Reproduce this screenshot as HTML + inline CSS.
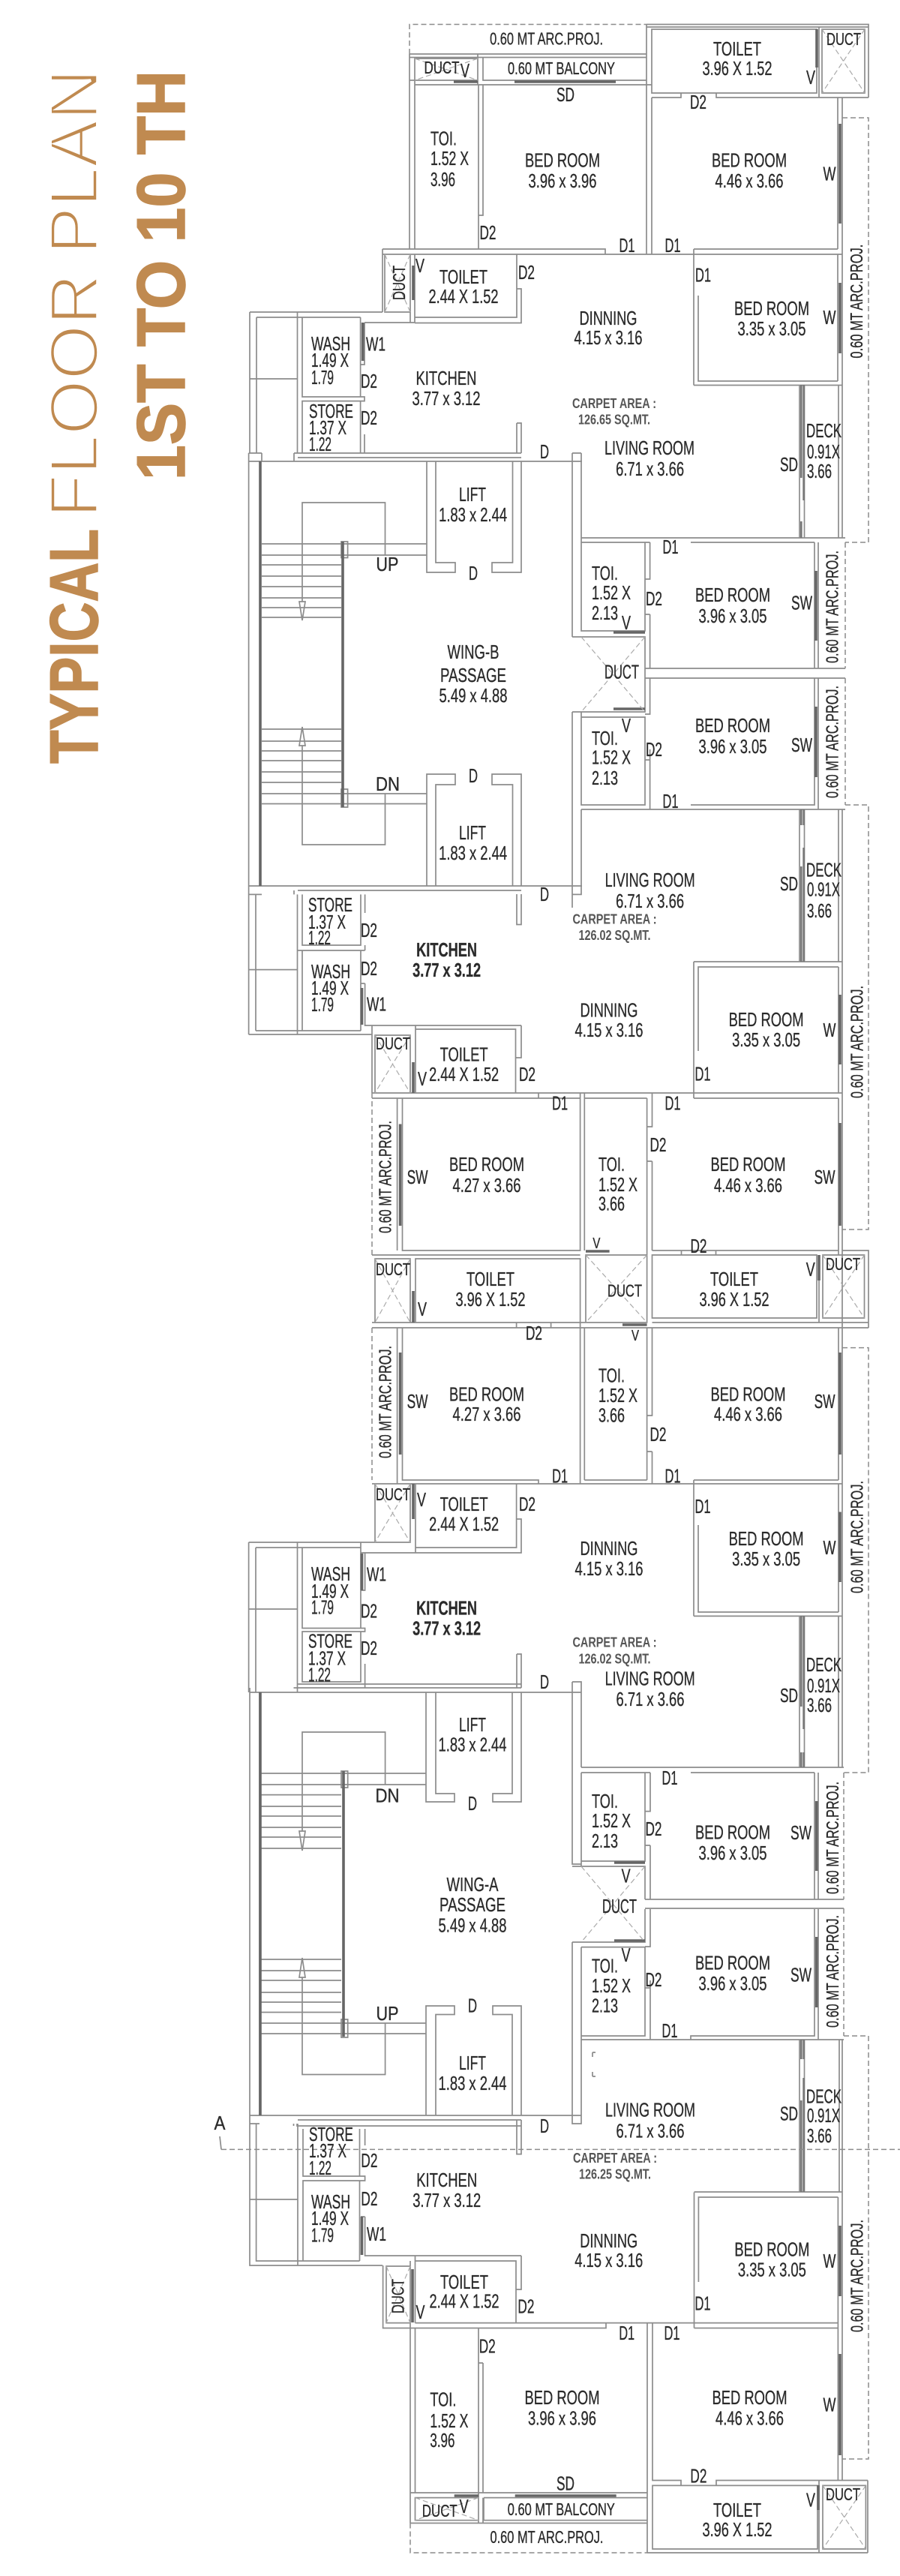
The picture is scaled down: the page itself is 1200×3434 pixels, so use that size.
<!DOCTYPE html>
<html><head><meta charset="utf-8"><title>Typical Floor Plan</title>
<style>
html,body{margin:0;padding:0;background:#fff}
svg{display:block}
text{font-family:"Liberation Sans",sans-serif;fill:#2b2b2b;stroke:#2b2b2b;stroke-width:.35;font-size:26px;text-anchor:middle;dominant-baseline:central}
.s{text-anchor:start}
.a{font-size:23px}
.c{font-size:18px;fill:#555;stroke:none;font-weight:bold}
.m{font-size:20px}
.w{fill:none;stroke:#8c8c8c;stroke-width:1.7}
.k{fill:none;stroke:#666;stroke-width:3.6}
.k2{fill:none;stroke:#777;stroke-width:2.6}
.d{fill:none;stroke:#8c8c8c;stroke-width:1.5;stroke-dasharray:7 4}
.x{fill:none;stroke:#aaa;stroke-width:1.2;stroke-dasharray:7 4}
.t1{font-size:91px;fill:#c08a50;text-anchor:start;dominant-baseline:alphabetic;stroke:#fff;stroke-width:3.5;paint-order:fill stroke}
.t2{font-size:91px;fill:#c08a50;text-anchor:start;dominant-baseline:alphabetic;font-weight:bold;stroke:#c08a50;stroke-width:1.5}
</style></head><body>
<svg xmlns="http://www.w3.org/2000/svg" width="1200" height="3434" viewBox="0 0 1200 3434">
<rect width="1200" height="3434" fill="#fff"/>
<!-- title -->
<text class="t1" x="130" y="690" textLength="598" lengthAdjust="spacingAndGlyphs" transform="rotate(-90 130 690)">FLOOR PLAN</text>
<text class="t2" x="130" y="1018" textLength="313" lengthAdjust="spacingAndGlyphs" transform="rotate(-90 130 1018)">TYPICAL</text>
<text class="t2" x="246" y="640" textLength="546" lengthAdjust="spacingAndGlyphs" transform="rotate(-90 246 640)">1ST TO 10 TH</text>

<!-- walls -->
<path class="w" d="
M862 32.5H1158V130M862 36H1158M862 32.5V339M869 39H1089V124H869ZM1096 39H1153V124H1096ZM1092 36V130
M869 130H908V124M955 124V130H1158M869 130V339M1117 130V332M1117 339V508M1123 130V717
M546 72H862M546 76.5H862M546 72V332M553 76.5V332M553 78H637V107H553ZM644 76.5V107H862M637 72V113M553 113H869M546 107H553M638 113V332M644 113V287H638
M510 339H1123M510 332H807V339M925 332H1117M925 332V513.5M931 394V508H1117M925 513.5H1123
M510 332V416M513 339H547V416H513ZM553 339V430.5M553 423H689V339M689 385H695V430.5H553M547 416V430
M333 416H510M342 423H480.6M333 416V604M342 423V604M396.5 416V604M403 423V529H486V534.6H403V604M480.6 423V529M480.6 534.6V604M486 430V486H481M486 579V604M333 505H396.5M486 430H553
M689 564H695V604M689 564V604
M331.6 604V1192.4M349 604V615M331.6 604H349M331.6 615H776M331.6 1181H776M331.6 1192.4H349M392 604H695M392 604V615M397 610H695
M569 615V763H607V750H581V615M695 615V763H656V750H683.5V615
M569 1181V1032H607V1046H581V1181M695 1181V1032H656V1046H683.5V1181
M349 725H569M349 740H569M349 753H455M349 768H455M349 782H455M349 797H455M349 810H455M349 823H455
M349 972H455M349 988H455M349 1001H455M349 1014H455M349 1029H455M349 1043H455M349 1058H569M349 1071.5H569
M403 802V670H513.5V740M403 994V1126H513.5V1058M455 722H463.6V743.5H455ZM455 1052H463.6V1076H455Z
M399 802H407L403 827ZM399 994H407L403 969Z
M763 604H775M763 604V849M763 949V1192.4H775V1079M775 604V723M775 717H1127M775 723H866.6M921 723H1086M866.6 723V772H860M775 723V841H860V723M775 849H860V891M763 849H775M763 949H860V891M775 949V956H860V1073H775V956
M866.6 819H860M866.6 819V891M860 891H1127M860 904H1127M866.6 904V952H860M866.6 999V1079M860 1013H866.6M1086 723V891M1086 904V1073H921M1091 723V891M1091 904V1079M775 1079H1127
M1066 513.5V717M1072.5 513.5V717M1118 513.5V717M1066 1079V1282M1072.5 1079V1282M1118 1079V1282M1123 1079V2154
M925 1282V1457M931 1401V1289H1118M925 1282H1123M1118 1289V1457M925 1464V1457M925 1464H1118
M397 1187H695M392 1192.4V1187M331.6 1192.4V1379M341 1192.4V1374M396.5 1192.4V1379M403 1192.4V1260H481V1192.4M486.6 1192.4V1217M396.5 1267H486.6M486.6 1260V1267M403 1267V1374M481 1267V1374M331.6 1292.6H396.5M331.6 1379H496M341 1374H481M486.6 1311V1367H695M481 1311H486.6
M689 1192V1232.5H695V1192M763 1192V1210
M496 1367V1380M500 1380H547V1457H500ZM554 1367V1457M554 1372H687.5V1457M695 1367V1410H687.5
M496 1380V1457M496 1457H1123M496 1464H718V1457M779.3 1464H862.6M925 1464H1118
M529.6 1464V1667M536.5 1464H773.6V1667H536.5ZM779.3 1457V1667M862.6 1464V1667M869.5 1457V1502H862.6M869.5 1548V1667M862.6 1548H869.5M1118 1464V1667M869.5 1667H1118
M773.6 1457V1464M869.5 1667H908.5V1673M954.5 1673V1667H1118M1123 1667H1158V1770M1118 1667V1673
M496 1673H773.6M500 1678H547V1763H500ZM554 1678H773.6V1763H554ZM781 1673H862.6V1763H781ZM869.5 1673H1089V1757H869.5ZM1097 1673H1152.5V1757H1097ZM869.5 1763H1158M496 1763H862.6M496 1770H688.6V1763M734.6 1763V1770H1158M1092 1673V1763
M862.6 1667V1673M773.6 1763V1978M779.3 1770V1973M862.6 1770V1973M869.5 1770V1887H862.6M869.5 1935V1978M862.6 1935H869.5M529.6 1770V1978M536.5 1770H773.6M536.5 1770V1973H718V1978M779.3 1973H862.6
M1118 1770V1973M869.5 1770H1118M925 1973H1118M925 1973V2154.4M931 2033V2149H1118M925 2154.4H1123M1118 1978V2149M1123 1770V2154
M496 1978H1123M500 1978H547V2056H500ZM554 1978V2070M554 2063H688.6V1978M688.6 2025H695V2070H481M481 2063V2056M331.6 2056H500M341 2063H481
M331.6 2056V2256M341 2063V2256M396.5 2056V2256M403 2063V2170.5H486.6V2175H403V2242H481V2175M481 2063V2170.5M486.6 2070V2120H481M331.6 2145H396.5M486.6 2218V2250
M689 2205H695V2250M689 2205V2250M391.5 2250H695M396 2245H695
M333 2250V2831M346 2256V2820M333 2256H775M333 2820H775M333 2831H346M763 2242H775V2256M763 2242V2485H775M775 2256V2356
M568 2256V2402H606V2391H581V2256M695 2256V2402H657V2391H683V2256
M568 2820V2674H606V2685.5H581V2820M695 2820V2674H657V2685.5H683V2820
M346 2364H568M346 2379H568M346 2392.6H455M346 2408H455M346 2421H455M346 2436H455M346 2449H455M346 2464H455
M346 2612H455M346 2627H455M346 2640H455M346 2656H455M346 2669H455M346 2682.5H455M346 2697H568M346 2711H568
M403 2441V2309H513.6V2379M403 2636V2765.5H513.6V2697M455 2361H463.7V2383H455ZM455 2692H463.7V2716H455Z
M399 2441H407L403 2467ZM399 2636H407L403 2610Z
M775 2356H1125M775 2363H867M921 2363H1086M775 2363V2481H860V2363M867 2363V2414.6H860M867 2460V2532M860 2460H867M763 2488H860V2532M763 2589H860V2545M775 2488V2481M763 2589V2831H775V2595.6M775 2595.6H860V2714H775V2595.6M860 2532H1125M860 2544H1125M867 2545V2595H860M867 2640V2719M860 2650H867M1086 2363V2532M1086 2545V2714H921V2719M1091 2363V2532M1091 2545V2719M775 2719H1125M775 2714V2719
M1066 2719V2922M1072.5 2719V2922M1119 2719V2922M1123 2719V3306
M1066 2154V2356M1072.5 2154V2356M1118 2154V2356M1123 2154V2356
M396 2831V2834H695M391.5 2831V2834M397 2826H695M689 2826V2871.6H695V2826
M333 2831V3020H510M341.6 2831V3014H479.5M397 2831V3020M404 2838V2901H486.6V2907H404V3014M479.5 2838V2901M479.5 2907V3014M486.6 2838V2860M333 2932H397M486.6 2955V3007H695M481 2955H486.6
M553.5 3014H688V3096.6M695 3007V3052H688M553.5 3007V3096.6M510.6 3020V3103.5H553.5M515 3021H547V3096.6H515ZM547 3014V3323
M553.5 3096.6H1117.4M553.5 3103.5H808V3096.6M925.5 3103.5H1117.4M925.5 2922.5V3103.5M931.4 3042V2929H1117.4M925.5 2922H1123M1117.4 2929V3306
M553.5 3103.5V3323M638 3103.5V3323M644 3150V3323H638M644 3150H638M644 3323H863M863 3096.6V3323M870 3096.6V3306.5H908V3313.4M955 3313.4V3306.5H1157M870 3313.4H1090V3398H870ZM1097 3313.4H1154.4V3398H1097ZM1092 3306.5V3403M1157 3306.5V3403M863 3323V3403M863 3403H1157
M547 3323H863M553.5 3329.6H638V3359.7H553.5ZM645 3329.6H863M645 3329.6V3359.7H863M547 3363.5H863M638 3323V3363.5M644 3329.6V3363.5M547 3363.5V3323
M790 2736h4M790 2736v6M790 2768h4M790 2768v-6
"/>
<!-- heavy (window / opening) lines -->
<path class="k" d="M1120 165V298M1120 377V471M686 109H821M605 109H637M483.7 430V481M347 615V1181M457 722V1076M818 843H860M818 945H860M1088 761V854M1088 942V1036M1120 1326V1419M1120 1497V1634M533.6 1498.5V1634M551 1416V1457M482.5 1317V1366M781 1668H812.6M830 1766H862.6M551 1721V1763M1092 1673V1707M551 1978V2025M533.6 1803V1939M1120 1803V1939M1120 2015.5V2109M482.5 2071V2120M347 2256V2820M458 2361V2715M819 2483H860M819 2587H860M1088.7 2401V2494M1088.7 2582V2676M1120 2967V3061M1120 3138V3273M482.5 2955V3006M550 3025V3096M1091 3313V3346M686.7 3327H821.7M605.7 3327H638M1089 39V90M551 354V400"/>
<!-- deck sliding door -->
<path class="k2" d="M1068.3 513V637M1071.6 513V667M1068.3 695V717M1068.3 1079V1100M1071.6 1079V1100M1068.3 1155V1282M1071.6 1130V1282M1068.3 2154V2275M1071.6 2154V2305M1068.3 2336V2356M1071.6 2336V2356M1068.3 2719V2745M1071.6 2719V2745M1068.3 2800V2922M1071.6 2770V2922"/>
<!-- dashed -->
<path class="d" d="M546 72V32.5H862M1123 157H1158V717V723H1127M1127 723V891M1127 904V1073M1127 1073H1158V1639H1123M496 1457V1673M496 1770V1973M1123 1796.6H1158V2363H1125M1125 2714H1158V3278H1123M1125 2363V2532M1125 2544V2714M547 3363.5V3403H863"/>
<path class="d" d="M295 2865.4H1200" stroke-dasharray="40 7 9 7"/>
<path class="w" d="M295 2865.4L293 2848"/>
<!-- duct crosses -->
<path class="x" d="M553 78L637 107M637 78L553 107M1096 39L1153 124M1153 39L1096 124M513 339L547 416M547 339L513 416M775 849L860 949M860 849L775 949M500 1380L547 1457M547 1380L500 1457M500 1678L547 1763M547 1678L500 1763M781 1673L862.6 1763M862.6 1673L781 1763M1097 1673L1152.5 1757M1152.5 1673L1097 1757M500 1978L547 2056M547 1978L500 2056M775 2488L860 2589M860 2488L775 2589M515 3021L547 3096.6M547 3021L515 3096.6M1097 3313.4L1154.4 3398M1154.4 3313.4L1097 3398M553.5 3329.6L638 3359.7M638 3329.6L553.5 3359.7"/>

<!-- SECTION 1 labels -->
<text class="a" x="728.6" y="51.7" textLength="151" lengthAdjust="spacingAndGlyphs">0.60 MT ARC.PROJ.</text>
<text x="983" y="65" textLength="64" lengthAdjust="spacingAndGlyphs">TOILET</text>
<text x="983" y="91" textLength="93" lengthAdjust="spacingAndGlyphs">3.96 X 1.52</text>
<text class="a" x="1125" y="52" textLength="46" lengthAdjust="spacingAndGlyphs">DUCT</text>
<text class="a" x="589" y="90" textLength="47" lengthAdjust="spacingAndGlyphs">DUCT</text>
<text x="620" y="94" textLength="12" lengthAdjust="spacingAndGlyphs">V</text>
<text class="a" x="748.5" y="91" textLength="143" lengthAdjust="spacingAndGlyphs">0.60 MT BALCONY</text>
<text x="754" y="126" textLength="24" lengthAdjust="spacingAndGlyphs">SD</text>
<text x="931" y="136" textLength="22" lengthAdjust="spacingAndGlyphs">D2</text>
<text x="1081" y="103" textLength="12" lengthAdjust="spacingAndGlyphs">V</text>
<text class="s" x="574" y="184.5" textLength="35" lengthAdjust="spacingAndGlyphs">TOI.</text>
<text class="s" x="574" y="211" textLength="51" lengthAdjust="spacingAndGlyphs">1.52 X</text>
<text class="s" x="574" y="239" textLength="33" lengthAdjust="spacingAndGlyphs">3.96</text>
<text x="750" y="213.5" textLength="100" lengthAdjust="spacingAndGlyphs">BED ROOM</text>
<text x="750" y="241" textLength="91" lengthAdjust="spacingAndGlyphs">3.96 x 3.96</text>
<text x="999" y="213.5" textLength="100" lengthAdjust="spacingAndGlyphs">BED ROOM</text>
<text x="999" y="241" textLength="91" lengthAdjust="spacingAndGlyphs">4.46 x 3.66</text>
<text x="1106" y="231.5" textLength="17" lengthAdjust="spacingAndGlyphs">W</text>
<text x="650.5" y="310" textLength="22" lengthAdjust="spacingAndGlyphs">D2</text>
<text x="836" y="327" textLength="21" lengthAdjust="spacingAndGlyphs">D1</text>
<text x="897" y="327" textLength="21" lengthAdjust="spacingAndGlyphs">D1</text>
<text class="a" x="532" y="377" textLength="46" lengthAdjust="spacingAndGlyphs" transform="rotate(-90 532 377)">DUCT</text>
<text x="560" y="354" textLength="12" lengthAdjust="spacingAndGlyphs">V</text>
<text x="618" y="369" textLength="64" lengthAdjust="spacingAndGlyphs">TOILET</text>
<text x="618" y="395" textLength="93" lengthAdjust="spacingAndGlyphs">2.44 X 1.52</text>
<text x="702" y="363" textLength="22" lengthAdjust="spacingAndGlyphs">D2</text>
<text x="937.5" y="366.6" textLength="21" lengthAdjust="spacingAndGlyphs">D1</text>
<text x="1029" y="411" textLength="100" lengthAdjust="spacingAndGlyphs">BED ROOM</text>
<text x="1029" y="438" textLength="91" lengthAdjust="spacingAndGlyphs">3.35 x 3.05</text>
<text x="1106" y="423" textLength="17" lengthAdjust="spacingAndGlyphs">W</text>
<text class="a" x="1142" y="401.6" textLength="152" lengthAdjust="spacingAndGlyphs" transform="rotate(-90 1142 401.6)">0.60 MT ARC.PROJ.</text>
<text x="811" y="424" textLength="77" lengthAdjust="spacingAndGlyphs">DINNING</text>
<text x="811" y="450" textLength="91" lengthAdjust="spacingAndGlyphs">4.15 x 3.16</text>
<text class="s" x="415" y="458" textLength="52" lengthAdjust="spacingAndGlyphs">WASH</text>
<text class="s" x="415" y="480" textLength="50" lengthAdjust="spacingAndGlyphs">1.49 X</text>
<text class="s" x="415" y="503" textLength="30" lengthAdjust="spacingAndGlyphs">1.79</text>
<text x="501" y="458.5" textLength="26" lengthAdjust="spacingAndGlyphs">W1</text>
<text x="492" y="508" textLength="22" lengthAdjust="spacingAndGlyphs">D2</text>
<text x="492" y="557" textLength="22" lengthAdjust="spacingAndGlyphs">D2</text>
<text x="595" y="504" textLength="81" lengthAdjust="spacingAndGlyphs">KITCHEN</text>
<text x="595" y="531" textLength="91" lengthAdjust="spacingAndGlyphs">3.77 x 3.12</text>
<text class="s" x="412" y="548" textLength="59" lengthAdjust="spacingAndGlyphs">STORE</text>
<text class="s" x="412" y="570" textLength="50" lengthAdjust="spacingAndGlyphs">1.37 X</text>
<text class="s" x="412" y="592" textLength="30" lengthAdjust="spacingAndGlyphs">1.22</text>
<text class="c" x="819" y="538" textLength="112" lengthAdjust="spacingAndGlyphs">CARPET AREA :</text>
<text class="c" x="819" y="559.5" textLength="96" lengthAdjust="spacingAndGlyphs">126.65 SQ.MT.</text>
<text class="s" x="1075" y="574" textLength="47" lengthAdjust="spacingAndGlyphs">DECK</text>
<text class="s" x="1076" y="602" textLength="44" lengthAdjust="spacingAndGlyphs">0.91X</text>
<text class="s" x="1076" y="628" textLength="33" lengthAdjust="spacingAndGlyphs">3.66</text>
<text x="726" y="602" textLength="12" lengthAdjust="spacingAndGlyphs">D</text>
<text x="866" y="597" textLength="120" lengthAdjust="spacingAndGlyphs">LIVING ROOM</text>
<text x="866.6" y="625" textLength="91" lengthAdjust="spacingAndGlyphs">6.71 x 3.66</text>
<text x="1052" y="619" textLength="24" lengthAdjust="spacingAndGlyphs">SD</text>

<!-- WING B -->
<text x="630" y="659" textLength="36" lengthAdjust="spacingAndGlyphs">LIFT</text>
<text x="630.6" y="686" textLength="91" lengthAdjust="spacingAndGlyphs">1.83 x 2.44</text>
<text x="516.4" y="752" textLength="30" lengthAdjust="spacingAndGlyphs">UP</text>
<text x="631" y="764" textLength="12" lengthAdjust="spacingAndGlyphs">D</text>
<text x="894" y="729" textLength="21" lengthAdjust="spacingAndGlyphs">D1</text>
<text class="s" x="789" y="764" textLength="35" lengthAdjust="spacingAndGlyphs">TOI.</text>
<text class="s" x="789" y="790" textLength="52" lengthAdjust="spacingAndGlyphs">1.52 X</text>
<text class="s" x="789" y="817" textLength="35" lengthAdjust="spacingAndGlyphs">2.13</text>
<text x="835" y="830" textLength="12" lengthAdjust="spacingAndGlyphs">V</text>
<text x="872" y="798" textLength="22" lengthAdjust="spacingAndGlyphs">D2</text>
<text x="977" y="793" textLength="100" lengthAdjust="spacingAndGlyphs">BED ROOM</text>
<text x="977" y="821" textLength="91" lengthAdjust="spacingAndGlyphs">3.96 x 3.05</text>
<text x="1069" y="803.6" textLength="28" lengthAdjust="spacingAndGlyphs">SW</text>
<text class="a" x="1109.4" y="809" textLength="150" lengthAdjust="spacingAndGlyphs" transform="rotate(-90 1109.4 809)">0.60 MT ARC.PROJ.</text>
<text x="631" y="869" textLength="69" lengthAdjust="spacingAndGlyphs">WING-B</text>
<text x="631" y="900" textLength="88" lengthAdjust="spacingAndGlyphs">PASSAGE</text>
<text x="631" y="927" textLength="91" lengthAdjust="spacingAndGlyphs">5.49 x 4.88</text>
<text x="829" y="895.5" textLength="46" lengthAdjust="spacingAndGlyphs">DUCT</text>
<text x="835" y="967" textLength="12" lengthAdjust="spacingAndGlyphs">V</text>
<text class="s" x="789" y="984" textLength="35" lengthAdjust="spacingAndGlyphs">TOI.</text>
<text class="s" x="789" y="1009.5" textLength="52" lengthAdjust="spacingAndGlyphs">1.52 X</text>
<text class="s" x="789" y="1037" textLength="35" lengthAdjust="spacingAndGlyphs">2.13</text>
<text x="872" y="999" textLength="22" lengthAdjust="spacingAndGlyphs">D2</text>
<text x="977" y="967" textLength="100" lengthAdjust="spacingAndGlyphs">BED ROOM</text>
<text x="977" y="995" textLength="91" lengthAdjust="spacingAndGlyphs">3.96 x 3.05</text>
<text x="1069" y="993" textLength="28" lengthAdjust="spacingAndGlyphs">SW</text>
<text class="a" x="1109.4" y="989" textLength="150" lengthAdjust="spacingAndGlyphs" transform="rotate(-90 1109.4 989)">0.60 MT ARC.PROJ.</text>
<text x="631" y="1034" textLength="12" lengthAdjust="spacingAndGlyphs">D</text>
<text x="517" y="1045" textLength="32" lengthAdjust="spacingAndGlyphs">DN</text>
<text x="894" y="1068" textLength="21" lengthAdjust="spacingAndGlyphs">D1</text>
<text x="630" y="1110" textLength="36" lengthAdjust="spacingAndGlyphs">LIFT</text>
<text x="630.6" y="1137" textLength="91" lengthAdjust="spacingAndGlyphs">1.83 x 2.44</text>
<text x="866.6" y="1173" textLength="120" lengthAdjust="spacingAndGlyphs">LIVING ROOM</text>
<text x="866.6" y="1201" textLength="91" lengthAdjust="spacingAndGlyphs">6.71 x 3.66</text>
<text x="1052" y="1178" textLength="24" lengthAdjust="spacingAndGlyphs">SD</text>
<text class="s" x="1075" y="1159.5" textLength="47" lengthAdjust="spacingAndGlyphs">DECK</text>
<text class="s" x="1076" y="1185.5" textLength="44" lengthAdjust="spacingAndGlyphs">0.91X</text>
<text class="s" x="1076" y="1214" textLength="33" lengthAdjust="spacingAndGlyphs">3.66</text>
<text x="726" y="1192" textLength="12" lengthAdjust="spacingAndGlyphs">D</text>

<!-- SECTION 2 -->
<text class="c" x="819.5" y="1225.6" textLength="112" lengthAdjust="spacingAndGlyphs">CARPET AREA :</text>
<text class="c" x="819.5" y="1247" textLength="96" lengthAdjust="spacingAndGlyphs">126.02 SQ.MT.</text>
<text class="s" x="411" y="1206" textLength="59" lengthAdjust="spacingAndGlyphs">STORE</text>
<text class="s" x="411" y="1229" textLength="50" lengthAdjust="spacingAndGlyphs">1.37 X</text>
<text class="s" x="411" y="1250" textLength="30" lengthAdjust="spacingAndGlyphs">1.22</text>
<text x="492" y="1240" textLength="22" lengthAdjust="spacingAndGlyphs">D2</text>
<text x="595.6" y="1266" textLength="81" lengthAdjust="spacingAndGlyphs" style="font-weight:bold">KITCHEN</text>
<text x="595.6" y="1293" textLength="91" lengthAdjust="spacingAndGlyphs" style="font-weight:bold">3.77 x 3.12</text>
<text x="492" y="1291" textLength="22" lengthAdjust="spacingAndGlyphs">D2</text>
<text class="s" x="415" y="1295" textLength="52" lengthAdjust="spacingAndGlyphs">WASH</text>
<text class="s" x="415" y="1317" textLength="50" lengthAdjust="spacingAndGlyphs">1.49 X</text>
<text class="s" x="415" y="1339" textLength="30" lengthAdjust="spacingAndGlyphs">1.79</text>
<text x="502" y="1338.5" textLength="26" lengthAdjust="spacingAndGlyphs">W1</text>
<text x="812" y="1346.6" textLength="77" lengthAdjust="spacingAndGlyphs">DINNING</text>
<text x="812" y="1373" textLength="91" lengthAdjust="spacingAndGlyphs">4.15 x 3.16</text>
<text x="1021.6" y="1359" textLength="100" lengthAdjust="spacingAndGlyphs">BED ROOM</text>
<text x="1021.6" y="1386" textLength="91" lengthAdjust="spacingAndGlyphs">3.35 x 3.05</text>
<text x="1106" y="1373" textLength="17" lengthAdjust="spacingAndGlyphs">W</text>
<text class="a" x="1142.7" y="1389" textLength="150" lengthAdjust="spacingAndGlyphs" transform="rotate(-90 1142.7 1389)">0.60 MT ARC.PROJ.</text>
<text class="a" x="524" y="1391" textLength="46" lengthAdjust="spacingAndGlyphs">DUCT</text>
<text x="618.6" y="1405.5" textLength="64" lengthAdjust="spacingAndGlyphs">TOILET</text>
<text x="618.6" y="1432" textLength="93" lengthAdjust="spacingAndGlyphs">2.44 X 1.52</text>
<text x="563" y="1438" textLength="12" lengthAdjust="spacingAndGlyphs">V</text>
<text x="703" y="1432" textLength="22" lengthAdjust="spacingAndGlyphs">D2</text>
<text x="937" y="1431.5" textLength="21" lengthAdjust="spacingAndGlyphs">D1</text>
<text x="746.6" y="1470.6" textLength="21" lengthAdjust="spacingAndGlyphs">D1</text>
<text x="897" y="1470.6" textLength="21" lengthAdjust="spacingAndGlyphs">D1</text>
<text class="a" x="513.5" y="1569" textLength="150" lengthAdjust="spacingAndGlyphs" transform="rotate(-90 513.5 1569)">0.60 MT ARC.PROJ.</text>
<text x="556.6" y="1569" textLength="28" lengthAdjust="spacingAndGlyphs">SW</text>
<text x="649" y="1552" textLength="100" lengthAdjust="spacingAndGlyphs">BED ROOM</text>
<text x="649" y="1580" textLength="91" lengthAdjust="spacingAndGlyphs">4.27 x 3.66</text>
<text class="s" x="798" y="1552" textLength="35" lengthAdjust="spacingAndGlyphs">TOI.</text>
<text class="s" x="798" y="1579" textLength="52" lengthAdjust="spacingAndGlyphs">1.52 X</text>
<text class="s" x="798" y="1604.5" textLength="35" lengthAdjust="spacingAndGlyphs">3.66</text>
<text x="877.5" y="1526" textLength="22" lengthAdjust="spacingAndGlyphs">D2</text>
<text x="997.5" y="1552" textLength="100" lengthAdjust="spacingAndGlyphs">BED ROOM</text>
<text x="997.5" y="1580" textLength="91" lengthAdjust="spacingAndGlyphs">4.46 x 3.66</text>
<text x="1099.6" y="1569" textLength="28" lengthAdjust="spacingAndGlyphs">SW</text>
<text class="m" x="795.4" y="1658" textLength="10" lengthAdjust="spacingAndGlyphs">V</text>
<text x="931.5" y="1661" textLength="22" lengthAdjust="spacingAndGlyphs">D2</text>
<text x="1080.7" y="1692" textLength="12" lengthAdjust="spacingAndGlyphs">V</text>
<text class="a" x="1124" y="1685" textLength="46" lengthAdjust="spacingAndGlyphs">DUCT</text>
<text x="563" y="1745" textLength="12" lengthAdjust="spacingAndGlyphs">V</text>
<text class="a" x="524" y="1692" textLength="46" lengthAdjust="spacingAndGlyphs">DUCT</text>
<text x="654" y="1705" textLength="64" lengthAdjust="spacingAndGlyphs">TOILET</text>
<text x="654" y="1732" textLength="93" lengthAdjust="spacingAndGlyphs">3.96 X 1.52</text>
<text class="a" x="833" y="1720.5" textLength="46" lengthAdjust="spacingAndGlyphs">DUCT</text>
<text x="979" y="1705" textLength="64" lengthAdjust="spacingAndGlyphs">TOILET</text>
<text x="979" y="1732" textLength="93" lengthAdjust="spacingAndGlyphs">3.96 X 1.52</text>
<text x="712" y="1777" textLength="22" lengthAdjust="spacingAndGlyphs">D2</text>
<text class="m" x="847" y="1781" textLength="10" lengthAdjust="spacingAndGlyphs">V</text>

<!-- SECTION 3 -->
<text class="a" x="513.5" y="1869" textLength="150" lengthAdjust="spacingAndGlyphs" transform="rotate(-90 513.5 1869)">0.60 MT ARC.PROJ.</text>
<text x="556.6" y="1868" textLength="28" lengthAdjust="spacingAndGlyphs">SW</text>
<text x="649" y="1858.6" textLength="100" lengthAdjust="spacingAndGlyphs">BED ROOM</text>
<text x="649" y="1885" textLength="91" lengthAdjust="spacingAndGlyphs">4.27 x 3.66</text>
<text class="s" x="798" y="1833.7" textLength="35" lengthAdjust="spacingAndGlyphs">TOI.</text>
<text class="s" x="798" y="1860" textLength="52" lengthAdjust="spacingAndGlyphs">1.52 X</text>
<text class="s" x="798" y="1886.5" textLength="35" lengthAdjust="spacingAndGlyphs">3.66</text>
<text x="877.5" y="1912" textLength="22" lengthAdjust="spacingAndGlyphs">D2</text>
<text x="997.5" y="1858.6" textLength="100" lengthAdjust="spacingAndGlyphs">BED ROOM</text>
<text x="997.5" y="1885" textLength="91" lengthAdjust="spacingAndGlyphs">4.46 x 3.66</text>
<text x="1099.6" y="1868" textLength="28" lengthAdjust="spacingAndGlyphs">SW</text>
<text x="746.6" y="1967.6" textLength="21" lengthAdjust="spacingAndGlyphs">D1</text>
<text x="897" y="1967.6" textLength="21" lengthAdjust="spacingAndGlyphs">D1</text>
<text class="a" x="524" y="1992" textLength="46" lengthAdjust="spacingAndGlyphs">DUCT</text>
<text x="562" y="1999" textLength="12" lengthAdjust="spacingAndGlyphs">V</text>
<text x="618.6" y="2005" textLength="64" lengthAdjust="spacingAndGlyphs">TOILET</text>
<text x="618.6" y="2031.5" textLength="93" lengthAdjust="spacingAndGlyphs">2.44 X 1.52</text>
<text x="703" y="2005" textLength="22" lengthAdjust="spacingAndGlyphs">D2</text>
<text x="937" y="2008" textLength="21" lengthAdjust="spacingAndGlyphs">D1</text>
<text x="1021.6" y="2051" textLength="100" lengthAdjust="spacingAndGlyphs">BED ROOM</text>
<text x="1021.6" y="2078" textLength="91" lengthAdjust="spacingAndGlyphs">3.35 x 3.05</text>
<text x="1106" y="2063" textLength="17" lengthAdjust="spacingAndGlyphs">W</text>
<text class="a" x="1142.7" y="2049" textLength="150" lengthAdjust="spacingAndGlyphs" transform="rotate(-90 1142.7 2049)">0.60 MT ARC.PROJ.</text>
<text x="812" y="2064" textLength="77" lengthAdjust="spacingAndGlyphs">DINNING</text>
<text x="812" y="2091" textLength="91" lengthAdjust="spacingAndGlyphs">4.15 x 3.16</text>
<text class="s" x="415" y="2098" textLength="52" lengthAdjust="spacingAndGlyphs">WASH</text>
<text class="s" x="415" y="2121" textLength="50" lengthAdjust="spacingAndGlyphs">1.49 X</text>
<text class="s" x="415" y="2142.5" textLength="30" lengthAdjust="spacingAndGlyphs">1.79</text>
<text x="502" y="2098.5" textLength="26" lengthAdjust="spacingAndGlyphs">W1</text>
<text x="492" y="2147.5" textLength="22" lengthAdjust="spacingAndGlyphs">D2</text>
<text x="595.6" y="2143.7" textLength="81" lengthAdjust="spacingAndGlyphs" style="font-weight:bold">KITCHEN</text>
<text x="595.6" y="2170.5" textLength="91" lengthAdjust="spacingAndGlyphs" style="font-weight:bold">3.77 x 3.12</text>
<text x="492" y="2197" textLength="22" lengthAdjust="spacingAndGlyphs">D2</text>
<text class="s" x="411" y="2187.7" textLength="59" lengthAdjust="spacingAndGlyphs">STORE</text>
<text class="s" x="411" y="2210.6" textLength="50" lengthAdjust="spacingAndGlyphs">1.37 X</text>
<text class="s" x="411" y="2232.5" textLength="30" lengthAdjust="spacingAndGlyphs">1.22</text>
<text class="c" x="819.5" y="2189.6" textLength="112" lengthAdjust="spacingAndGlyphs">CARPET AREA :</text>
<text class="c" x="819.5" y="2211.4" textLength="96" lengthAdjust="spacingAndGlyphs">126.02 SQ.MT.</text>
<text x="866.6" y="2237.4" textLength="120" lengthAdjust="spacingAndGlyphs">LIVING ROOM</text>
<text x="726" y="2242" textLength="12" lengthAdjust="spacingAndGlyphs">D</text>
<text class="s" x="1075" y="2219" textLength="47" lengthAdjust="spacingAndGlyphs">DECK</text>
<text class="s" x="1076" y="2247" textLength="44" lengthAdjust="spacingAndGlyphs">0.91X</text>
<text class="s" x="1076" y="2273" textLength="33" lengthAdjust="spacingAndGlyphs">3.66</text>
<text x="867" y="2265" textLength="91" lengthAdjust="spacingAndGlyphs">6.71 x 3.66</text>
<text x="1052" y="2260" textLength="24" lengthAdjust="spacingAndGlyphs">SD</text>

<!-- WING A -->
<text x="630" y="2299" textLength="36" lengthAdjust="spacingAndGlyphs">LIFT</text>
<text x="630" y="2325.4" textLength="91" lengthAdjust="spacingAndGlyphs">1.83 x 2.44</text>
<text x="516.5" y="2393.5" textLength="32" lengthAdjust="spacingAndGlyphs">DN</text>
<text x="630" y="2404" textLength="12" lengthAdjust="spacingAndGlyphs">D</text>
<text x="893" y="2370" textLength="21" lengthAdjust="spacingAndGlyphs">D1</text>
<text class="s" x="789" y="2401" textLength="35" lengthAdjust="spacingAndGlyphs">TOI.</text>
<text class="s" x="789" y="2427" textLength="52" lengthAdjust="spacingAndGlyphs">1.52 X</text>
<text class="s" x="789" y="2454" textLength="35" lengthAdjust="spacingAndGlyphs">2.13</text>
<text x="871.5" y="2438" textLength="22" lengthAdjust="spacingAndGlyphs">D2</text>
<text x="977" y="2442.5" textLength="100" lengthAdjust="spacingAndGlyphs">BED ROOM</text>
<text x="977" y="2470" textLength="91" lengthAdjust="spacingAndGlyphs">3.96 x 3.05</text>
<text x="1068" y="2443" textLength="28" lengthAdjust="spacingAndGlyphs">SW</text>
<text class="a" x="1110" y="2450" textLength="150" lengthAdjust="spacingAndGlyphs" transform="rotate(-90 1110 2450)">0.60 MT ARC.PROJ.</text>
<text x="630" y="2512" textLength="69" lengthAdjust="spacingAndGlyphs">WING-A</text>
<text x="630" y="2539" textLength="88" lengthAdjust="spacingAndGlyphs">PASSAGE</text>
<text x="630" y="2566.5" textLength="91" lengthAdjust="spacingAndGlyphs">5.49 x 4.88</text>
<text x="834.6" y="2500.7" textLength="12" lengthAdjust="spacingAndGlyphs">V</text>
<text x="826" y="2541" textLength="46" lengthAdjust="spacingAndGlyphs">DUCT</text>
<text x="834.6" y="2606" textLength="12" lengthAdjust="spacingAndGlyphs">V</text>
<text class="s" x="789" y="2620.5" textLength="35" lengthAdjust="spacingAndGlyphs">TOI.</text>
<text class="s" x="789" y="2647" textLength="52" lengthAdjust="spacingAndGlyphs">1.52 X</text>
<text class="s" x="789" y="2673.6" textLength="35" lengthAdjust="spacingAndGlyphs">2.13</text>
<text x="871.5" y="2639" textLength="22" lengthAdjust="spacingAndGlyphs">D2</text>
<text x="977" y="2616.6" textLength="100" lengthAdjust="spacingAndGlyphs">BED ROOM</text>
<text x="977" y="2644" textLength="91" lengthAdjust="spacingAndGlyphs">3.96 x 3.05</text>
<text x="1068" y="2632.7" textLength="28" lengthAdjust="spacingAndGlyphs">SW</text>
<text class="a" x="1110" y="2628" textLength="150" lengthAdjust="spacingAndGlyphs" transform="rotate(-90 1110 2628)">0.60 MT ARC.PROJ.</text>
<text x="630" y="2673.6" textLength="12" lengthAdjust="spacingAndGlyphs">D</text>
<text x="516.5" y="2684" textLength="30" lengthAdjust="spacingAndGlyphs">UP</text>
<text x="893" y="2707" textLength="21" lengthAdjust="spacingAndGlyphs">D1</text>
<text x="630" y="2750" textLength="36" lengthAdjust="spacingAndGlyphs">LIFT</text>
<text x="630" y="2777" textLength="91" lengthAdjust="spacingAndGlyphs">1.83 x 2.44</text>
<text x="867" y="2812.6" textLength="120" lengthAdjust="spacingAndGlyphs">LIVING ROOM</text>
<text x="867" y="2840.4" textLength="91" lengthAdjust="spacingAndGlyphs">6.71 x 3.66</text>
<text x="1052" y="2817.5" textLength="24" lengthAdjust="spacingAndGlyphs">SD</text>
<text class="s" x="1075" y="2794.6" textLength="47" lengthAdjust="spacingAndGlyphs">DECK</text>
<text class="s" x="1076" y="2820" textLength="44" lengthAdjust="spacingAndGlyphs">0.91X</text>
<text class="s" x="1076" y="2847" textLength="33" lengthAdjust="spacingAndGlyphs">3.66</text>
<text x="726" y="2834" textLength="12" lengthAdjust="spacingAndGlyphs">D</text>
<text x="293" y="2830" textLength="15" lengthAdjust="spacingAndGlyphs">A</text>

<!-- SECTION 4 -->
<text class="s" x="412" y="2845" textLength="59" lengthAdjust="spacingAndGlyphs">STORE</text>
<text class="s" x="412" y="2867" textLength="50" lengthAdjust="spacingAndGlyphs">1.37 X</text>
<text class="s" x="412" y="2890" textLength="30" lengthAdjust="spacingAndGlyphs">1.22</text>
<text x="492.4" y="2880" textLength="22" lengthAdjust="spacingAndGlyphs">D2</text>
<text class="c" x="820" y="2877" textLength="112" lengthAdjust="spacingAndGlyphs">CARPET AREA :</text>
<text class="c" x="820" y="2898.6" textLength="96" lengthAdjust="spacingAndGlyphs">126.25 SQ.MT.</text>
<text x="595.7" y="2906" textLength="81" lengthAdjust="spacingAndGlyphs">KITCHEN</text>
<text x="595.7" y="2933" textLength="91" lengthAdjust="spacingAndGlyphs">3.77 x 3.12</text>
<text x="492.4" y="2931" textLength="22" lengthAdjust="spacingAndGlyphs">D2</text>
<text class="s" x="415" y="2935" textLength="52" lengthAdjust="spacingAndGlyphs">WASH</text>
<text class="s" x="415" y="2957" textLength="50" lengthAdjust="spacingAndGlyphs">1.49 X</text>
<text class="s" x="415" y="2979.5" textLength="30" lengthAdjust="spacingAndGlyphs">1.79</text>
<text x="502" y="2978" textLength="26" lengthAdjust="spacingAndGlyphs">W1</text>
<text x="811.7" y="2987" textLength="77" lengthAdjust="spacingAndGlyphs">DINNING</text>
<text x="811.7" y="3013" textLength="91" lengthAdjust="spacingAndGlyphs">4.15 x 3.16</text>
<text x="1029.4" y="2998.7" textLength="100" lengthAdjust="spacingAndGlyphs">BED ROOM</text>
<text x="1029.4" y="3025.7" textLength="91" lengthAdjust="spacingAndGlyphs">3.35 x 3.05</text>
<text x="1106" y="3014" textLength="17" lengthAdjust="spacingAndGlyphs">W</text>
<text class="a" x="1142.7" y="3034" textLength="150" lengthAdjust="spacingAndGlyphs" transform="rotate(-90 1142.7 3034)">0.60 MT ARC.PROJ.</text>
<text x="619" y="3042" textLength="64" lengthAdjust="spacingAndGlyphs">TOILET</text>
<text x="619" y="3067.7" textLength="93" lengthAdjust="spacingAndGlyphs">2.44 X 1.52</text>
<text class="a" x="530.6" y="3061" textLength="46" lengthAdjust="spacingAndGlyphs" transform="rotate(-90 530.6 3061)">DUCT</text>
<text x="560.5" y="3082" textLength="12" lengthAdjust="spacingAndGlyphs">V</text>
<text x="701.4" y="3074.6" textLength="22" lengthAdjust="spacingAndGlyphs">D2</text>
<text x="937" y="3070.7" textLength="21" lengthAdjust="spacingAndGlyphs">D1</text>
<text x="835.7" y="3110" textLength="21" lengthAdjust="spacingAndGlyphs">D1</text>
<text x="896" y="3110" textLength="21" lengthAdjust="spacingAndGlyphs">D1</text>
<text x="649.7" y="3127.4" textLength="22" lengthAdjust="spacingAndGlyphs">D2</text>
<text class="s" x="573.4" y="3198.6" textLength="35" lengthAdjust="spacingAndGlyphs">TOI.</text>
<text class="s" x="573.4" y="3226.8" textLength="51" lengthAdjust="spacingAndGlyphs">1.52 X</text>
<text class="s" x="573.4" y="3253" textLength="33" lengthAdjust="spacingAndGlyphs">3.96</text>
<text x="749.5" y="3196" textLength="100" lengthAdjust="spacingAndGlyphs">BED ROOM</text>
<text x="749.5" y="3223.7" textLength="91" lengthAdjust="spacingAndGlyphs">3.96 x 3.96</text>
<text x="999.5" y="3196" textLength="100" lengthAdjust="spacingAndGlyphs">BED ROOM</text>
<text x="999.5" y="3223.7" textLength="91" lengthAdjust="spacingAndGlyphs">4.46 x 3.66</text>
<text x="1106" y="3205.6" textLength="17" lengthAdjust="spacingAndGlyphs">W</text>
<text x="931.4" y="3300.7" textLength="22" lengthAdjust="spacingAndGlyphs">D2</text>
<text x="754" y="3310.7" textLength="24" lengthAdjust="spacingAndGlyphs">SD</text>
<text x="1081" y="3332.7" textLength="12" lengthAdjust="spacingAndGlyphs">V</text>
<text class="a" x="1124" y="3325" textLength="46" lengthAdjust="spacingAndGlyphs">DUCT</text>
<text x="983" y="3346" textLength="64" lengthAdjust="spacingAndGlyphs">TOILET</text>
<text x="983" y="3372" textLength="93" lengthAdjust="spacingAndGlyphs">3.96 X 1.52</text>
<text class="a" x="586.3" y="3347" textLength="47" lengthAdjust="spacingAndGlyphs">DUCT</text>
<text x="618.6" y="3341" textLength="12" lengthAdjust="spacingAndGlyphs">V</text>
<text class="a" x="748.3" y="3345" textLength="143" lengthAdjust="spacingAndGlyphs">0.60 MT BALCONY</text>
<text class="a" x="729" y="3382" textLength="151" lengthAdjust="spacingAndGlyphs">0.60 MT ARC.PROJ.</text>
</svg>
</body></html>
